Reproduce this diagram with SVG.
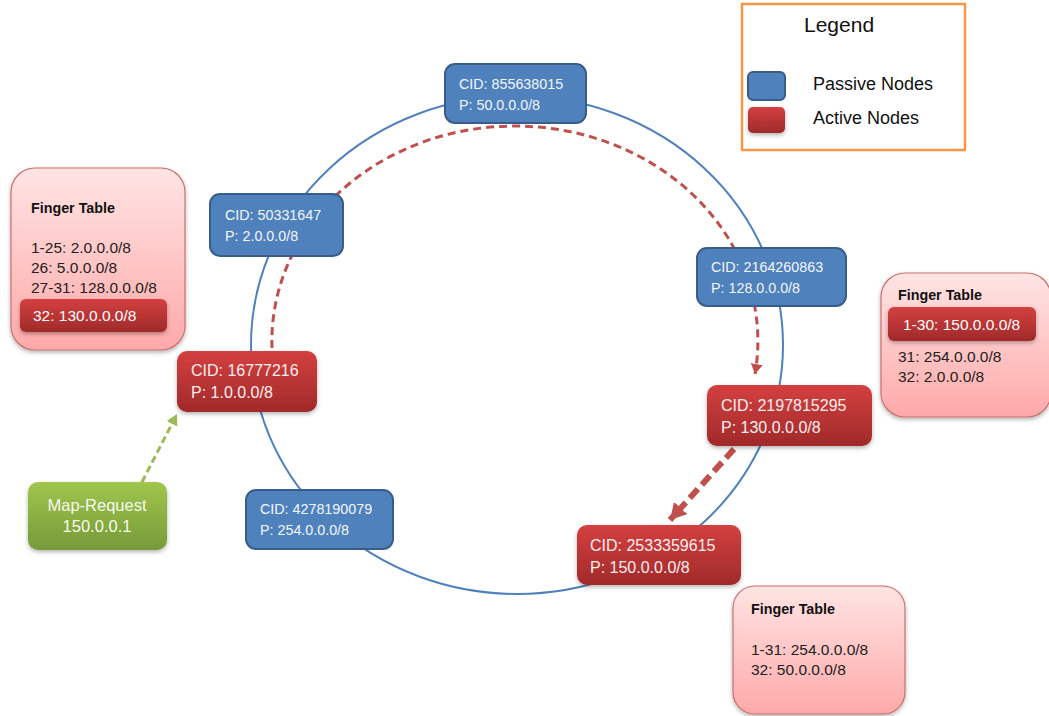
<svg xmlns="http://www.w3.org/2000/svg" width="1049" height="716" viewBox="0 0 1049 716">
<style>
.txt{font-family:"Liberation Sans",Arial,sans-serif}
.pas rect{fill:#4f81bd;stroke:#385d8a;stroke-width:2}
.pas text{font-family:"Liberation Sans",Arial,sans-serif;font-size:14.3px;fill:#f4f6fa}
.act rect.box{fill:url(#gRed);stroke:none;filter:url(#sh)}
.act text{font-family:"Liberation Sans",Arial,sans-serif;font-size:16px;fill:#fbeeee}
.ft rect.bg{fill:url(#gPink);stroke:#c8706e;stroke-width:1.2;filter:url(#sh)}
.ft text{font-family:"Liberation Sans",Arial,sans-serif;font-size:15.5px;fill:#222}
.ft text.h{font-weight:bold;font-size:14.3px;fill:#111}
.ft rect.row{fill:url(#gRed);filter:url(#sh)}
.ft text.w{fill:#fff}
</style>
<defs>
<linearGradient id="gRed" x1="0" y1="0" x2="0" y2="1"><stop offset="0" stop-color="#d44040"/><stop offset="1" stop-color="#a02a2a"/></linearGradient>
<linearGradient id="gPink" x1="0" y1="0" x2="0" y2="1"><stop offset="0" stop-color="#ffe4e4"/><stop offset="1" stop-color="#ffa9a9"/></linearGradient>
<linearGradient id="gGreen" x1="0" y1="0" x2="0" y2="1"><stop offset="0" stop-color="#a0c64c"/><stop offset="1" stop-color="#779a39"/></linearGradient>
<filter id="sh" x="-20%" y="-20%" width="140%" height="150%"><feDropShadow dx="0" dy="2" stdDeviation="2" flood-color="#000" flood-opacity="0.3"/></filter>
<marker id="mRed" markerUnits="userSpaceOnUse" markerWidth="14" markerHeight="14" refX="10" refY="6" orient="auto"><path d="M0,0 L10,6 L0,12 Z" fill="#c0504d"/></marker>
<marker id="mRedBig" markerUnits="userSpaceOnUse" markerWidth="20" markerHeight="20" refX="16" refY="9" orient="auto"><path d="M0,0 L16,9 L0,18 Z" fill="#c0504d"/></marker>
<marker id="mGreen" markerUnits="userSpaceOnUse" markerWidth="14" markerHeight="14" refX="11" refY="6" orient="auto"><path d="M0,0 L11,6 L0,12 Z" fill="#9bbb59"/></marker>
</defs>
<rect x="0" y="0" width="1049" height="716" fill="#fff"/>

<g id="connectors">
<ellipse cx="517" cy="345" rx="266" ry="249" fill="none" stroke="#4f81bd" stroke-width="2"/>
<path d="M272 348 A243 215 0 1 1 755 374" fill="none" stroke="#c0504d" stroke-width="3" stroke-dasharray="8 5" marker-end="url(#mRed)"/>
<path d="M734 449 L670 520" fill="none" stroke="#c0504d" stroke-width="6" stroke-dasharray="12 6" marker-end="url(#mRedBig)"/>
<path d="M142 482 L177 414" fill="none" stroke="#9bbb59" stroke-width="3" stroke-dasharray="7 4" marker-end="url(#mGreen)"/>
</g>

<g id="legend">
<rect x="742" y="4" width="223" height="146" fill="#fff" stroke="#f79646" stroke-width="2.5"/>
<text class="txt" x="804" y="32" font-size="21" fill="#111">Legend</text>
<rect x="748" y="72" width="37" height="28" rx="5" fill="#4f81bd" stroke="#385d8a" stroke-width="2"/>
<rect x="748" y="107" width="37" height="26" rx="5" fill="url(#gRed)" filter="url(#sh)"/>
<text class="txt" x="813" y="90" font-size="18" fill="#111">Passive Nodes</text>
<text class="txt" x="813" y="124" font-size="18" fill="#111">Active Nodes</text>
</g>

<g id="n855638015" class="pas"><rect x="445" y="64" width="141" height="59" rx="10"/><text x="459" y="89">CID: 855638015</text><text x="459" y="110">P: 50.0.0.0/8</text></g>
<g id="n50331647" class="pas"><rect x="210" y="194" width="133" height="62" rx="10"/><text x="225" y="220">CID: 50331647</text><text x="225" y="241">P: 2.0.0.0/8</text></g>
<g id="n2164260863" class="pas"><rect x="697" y="248" width="149" height="58" rx="10"/><text x="711" y="272">CID: 2164260863</text><text x="711" y="293">P: 128.0.0.0/8</text></g>
<g id="n4278190079" class="pas"><rect x="246" y="490" width="147" height="59" rx="10"/><text x="260" y="514">CID: 4278190079</text><text x="260" y="535">P: 254.0.0.0/8</text></g>

<g id="n16777216" class="act"><rect class="box" x="177" y="351" width="140" height="61" rx="10"/><text x="191" y="376">CID: 16777216</text><text x="191" y="398">P: 1.0.0.0/8</text></g>
<g id="n2197815295" class="act"><rect class="box" x="707" y="385" width="165" height="61" rx="10"/><text x="721" y="411">CID: 2197815295</text><text x="721" y="433">P: 130.0.0.0/8</text></g>
<g id="n2533359615" class="act"><rect class="box" x="577" y="525" width="164" height="60" rx="10"/><text x="590" y="551">CID: 2533359615</text><text x="590" y="573">P: 150.0.0.0/8</text></g>

<g id="mapRequest"><rect x="28" y="482" width="139" height="68" rx="10" fill="url(#gGreen)" filter="url(#sh)"/><text class="txt" x="97" y="511" font-size="16.5" fill="#f6f9ef" text-anchor="middle">Map-Request</text><text class="txt" x="97" y="532" font-size="16.5" fill="#f6f9ef" text-anchor="middle">150.0.0.1</text></g>

<g id="ftLeft" class="ft"><rect class="bg" x="11" y="168" width="174" height="182" rx="24"/><text class="h" x="31" y="213">Finger  Table</text><text x="31" y="253">1-25: 2.0.0.0/8</text><text x="31" y="273">26: 5.0.0.0/8</text><text x="31" y="293">27-31: 128.0.0.0/8</text><rect class="row" x="20" y="299" width="147" height="33" rx="6"/><text class="w" x="33" y="321">32: 130.0.0.0/8</text></g>

<g id="ftRight" class="ft"><rect class="bg" x="881" y="273" width="170" height="144" rx="24"/><text class="h" x="898" y="300">Finger  Table</text><rect class="row" x="888" y="307" width="148" height="34" rx="6"/><text class="w" x="903" y="330">1-30: 150.0.0.0/8</text><text x="898" y="362">31: 254.0.0.0/8</text><text x="898" y="382">32: 2.0.0.0/8</text></g>

<g id="ftBottom" class="ft"><rect class="bg" x="733" y="586" width="172" height="128" rx="22"/><text class="h" x="751" y="614">Finger Table</text><text x="751" y="655">1-31: 254.0.0.0/8</text><text x="751" y="675">32: 50.0.0.0/8</text></g>
</svg>
